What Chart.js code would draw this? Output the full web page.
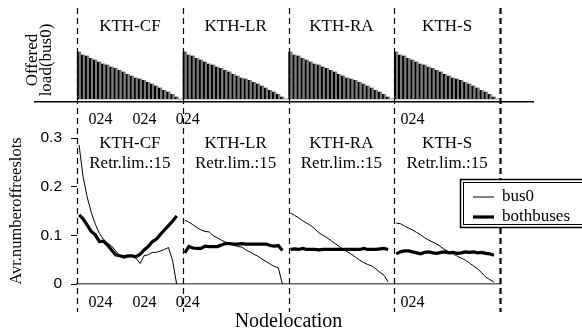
<!DOCTYPE html>
<html>
<head>
<meta charset="utf-8">
<script src="https://cdn.jsdelivr.net/npm/chart.js@4/dist/chart.umd.min.js"></script>
<style>
  body { margin: 0; background: #fff; }
  #wrap { position: relative; width: 582px; height: 334px; }
  #wrap canvas { position: absolute; left: 0; top: 0; }
</style>
</head>
<body>
<div id="wrap">
  <canvas id="loadChart" width="582" height="334"></canvas>
  <canvas id="slotChart" width="582" height="334"></canvas>
</div>
<script>
// traces, one block of nodes per trace
const groups = ['KTH-CF', 'KTH-LR', 'KTH-RA', 'KTH-S'];
const retryNote = 'Retr.lim.:15';

// offered load on bus0 per node (same for every trace)
const offeredLoad = [0.95, 0.89, 0.87, 0.82, 0.79, 0.75, 0.71, 0.69, 0.65, 0.62, 0.58, 0.55, 0.50,
                     0.47, 0.43, 0.41, 0.38, 0.34, 0.31, 0.27, 0.23, 0.18, 0.15, 0.10, 0.05];

// avg. number of free slots, bus0 only
const bus0CF = [0.286, 0.220, 0.179, 0.147, 0.123, 0.104, 0.092, 0.084, 0.078, 0.068, 0.058, 0.053, 0.055,
                0.056, 0.053, 0.042, 0.058, 0.060, 0.065, 0.065, 0.068, 0.071, 0.075, 0.048, 0];
const bus0LR = [0.131, 0.127, 0.122, 0.116, 0.111, 0.108, 0.107, 0.099, 0.095, 0.090, 0.086, 0.084, 0.080,
                0.077, 0.076, 0.070, 0.066, 0.061, 0.057, 0.051, 0.046, 0.041, 0.036, 0.033, 0];
const bus0RA = [0.146, 0.141, 0.136, 0.130, 0.125, 0.120, 0.113, 0.105, 0.100, 0.095, 0.089, 0.083, 0.077,
                0.071, 0.066, 0.061, 0.055, 0.049, 0.044, 0.040, 0.037, 0.031, 0.024, 0.018, 0.004];
const bus0S  = [0.125, 0.124, 0.119, 0.115, 0.111, 0.106, 0.101, 0.095, 0.090, 0.086, 0.082, 0.076, 0.070,
                0.066, 0.062, 0.057, 0.053, 0.049, 0.043, 0.037, 0.031, 0.023, 0.014, 0.009, 0.004];

// avg. number of free slots, both buses
const bothCF = [0.142, 0.134, 0.121, 0.108, 0.101, 0.087, 0.088, 0.080, 0.070, 0.060, 0.058, 0.056, 0.058,
                0.058, 0.056, 0.061, 0.070, 0.077, 0.087, 0.092, 0.102, 0.111, 0.120, 0.129, 0.140];
const bothLR = [0.064, 0.077, 0.074, 0.073, 0.073, 0.078, 0.077, 0.077, 0.077, 0.080, 0.083, 0.083, 0.082,
                0.082, 0.083, 0.082, 0.082, 0.082, 0.082, 0.082, 0.082, 0.079, 0.078, 0.079, 0.069];
const bothRA = [0.071, 0.072, 0.071, 0.073, 0.071, 0.071, 0.071, 0.070, 0.071, 0.071, 0.071, 0.071, 0.071,
                0.071, 0.071, 0.071, 0.071, 0.071, 0.073, 0.071, 0.071, 0.071, 0.072, 0.073, 0.071];
const bothS  = [0.062, 0.066, 0.068, 0.068, 0.066, 0.064, 0.062, 0.065, 0.066, 0.064, 0.063, 0.065, 0.066,
                0.064, 0.065, 0.063, 0.064, 0.066, 0.065, 0.066, 0.064, 0.065, 0.063, 0.062, 0.059];

const seriesLabels = ['bus0', 'bothbuses'];
const tickPositions = [5.8, 16.6, 27.2, 82.5];
const tickLabels = ['024', '024', '024', '024'];

const groupSpan = 26;
const nodeX = (g, i) => g * groupSpan + 0.5 + i;

const SERIF = "'Liberation Serif', 'Times New Roman', serif";
const SANS = "'Liberation Sans', Arial, sans-serif";
Chart.defaults.font.family = SERIF;
Chart.defaults.color = '#000';

const loadBars = [];
groups.forEach((name, g) => offeredLoad.forEach((v, i) => loadBars.push({ x: nodeX(g, i), y: v })));

function seriesPoints(perGroup) {
  const pts = [];
  perGroup.forEach((vals, g) => {
    vals.forEach((v, i) => pts.push({ x: nodeX(g, i), y: v }));
    pts.push({ x: nodeX(g, vals.length), y: null });  // break the line between traces
  });
  return pts;
}

function fixedTicks(scale) {
  scale.ticks = tickPositions.map(v => ({ value: v }));
}

function drawGroupNames(chart, rows) {
  const { ctx } = chart;
  const x = chart.scales.x;
  ctx.save();
  ctx.fillStyle = '#000';
  ctx.textAlign = 'center';
  ctx.textBaseline = 'middle';
  ctx.font = '17px ' + SERIF;
  groups.forEach((name, g) => {
    const cx = x.getPixelForValue(g * groupSpan + groupSpan / 2);
    rows.forEach(r => ctx.fillText(r.text(name), cx, r.y));
  });
  ctx.restore();
}

// top panel: offered load
const loadDecor = {
  id: 'loadDecor',
  beforeDatasetsDraw(chart) {
    const { ctx } = chart;
    const x = chart.scales.x, y = chart.scales.y;
    ctx.save();
    ctx.strokeStyle = '#999';
    ctx.lineWidth = 1;
    ctx.beginPath();
    ctx.moveTo(x.getPixelForValue(0), y.getPixelForValue(0));
    ctx.lineTo(x.getPixelForValue(groups.length * groupSpan), y.getPixelForValue(0));
    ctx.stroke();
    ctx.restore();
  },
  afterDraw(chart) {
    drawGroupNames(chart, [{ text: n => n, y: 27 }]);
  }
};

new Chart(document.getElementById('loadChart'), {
  type: 'bar',
  data: {
    datasets: [{
      data: loadBars,
      backgroundColor: '#7a7a7a',
      borderColor: '#000',
      borderWidth: { left: 2.6, top: 0, right: 0, bottom: 0 },
      barThickness: 4.07
    }]
  },
  options: {
    animation: false,
    responsive: false,
    layout: { padding: { left: 0, right: 49, top: 18, bottom: 0 } },
    plugins: { legend: { display: false }, tooltip: { enabled: false } },
    scales: {
      x: {
        type: 'linear',
        min: -10.33,
        max: 112.11,
        offset: false,
        afterBuildTicks: fixedTicks,
        afterFit: s => { s.height = 232; },
        grid: { display: false, drawTicks: false },
        border: { display: true, color: '#000', width: 1.6 },
        ticks: {
          autoSkip: false,
          maxRotation: 0,
          padding: 8,
          font: { size: 16 },
          callback: (v, i) => tickLabels[i]
        }
      },
      y: {
        min: -0.06,
        max: 1.62,
        afterFit: s => { s.width = 35; },
        grid: { display: false },
        border: { display: false },
        ticks: { display: false },
        title: {
          display: true,
          text: ['Offered', 'load(bus0)'],
          font: { size: 17, lineHeight: 0.8 },
          padding: { top: 26, bottom: 0 }
        }
      }
    }
  },
  plugins: [loadDecor]
});

// bottom panel: free slots
const slotDecor = {
  id: 'slotDecor',
  afterDatasetsDraw(chart) {
    const { ctx } = chart;
    const x = chart.scales.x;
    ctx.save();
    ctx.strokeStyle = '#000';
    ctx.setLineDash([6, 4]);
    for (let g = 0; g <= groups.length; g++) {
      const px = Math.round(x.getPixelForValue(g * groupSpan)) + 0.5;
      ctx.lineWidth = g === groups.length ? 2.2 : 1.2;
      ctx.beginPath();
      ctx.moveTo(px, 8);
      ctx.lineTo(px, 312);
      ctx.stroke();
    }
    ctx.restore();
    drawGroupNames(chart, [{ text: n => n, y: 143.5 }, { text: () => retryNote, y: 163.5 }]);
  },
  afterDraw(chart) {
    const { ctx } = chart;
    ctx.save();
    ctx.fillStyle = '#fff';
    ctx.fillRect(460, 179, 130, 49);
    ctx.strokeStyle = '#000';
    ctx.lineWidth = 1.5;
    ctx.strokeRect(460.5, 179.5, 130, 48);
    ctx.lineWidth = 1;
    ctx.strokeRect(463.5, 182.5, 125, 42);
    ctx.font = '17px ' + SERIF;
    ctx.textBaseline = 'middle';
    ctx.fillStyle = '#000';
    chart.data.datasets.forEach((ds, k) => {
      const y = 197 + k * 20;
      ctx.lineWidth = ds.borderWidth;
      ctx.beginPath();
      ctx.moveTo(473, y);
      ctx.lineTo(494, y);
      ctx.stroke();
      ctx.fillText(ds.label, 502, y);
    });
    ctx.restore();
  }
};

new Chart(document.getElementById('slotChart'), {
  type: 'line',
  data: {
    datasets: [
      {
        label: seriesLabels[0],
        data: seriesPoints([bus0CF, bus0LR, bus0RA, bus0S]),
        borderColor: '#000',
        borderWidth: 1,
        pointRadius: 0,
        tension: 0
      },
      {
        label: seriesLabels[1],
        data: seriesPoints([bothCF, bothLR, bothRA, bothS]),
        borderColor: '#000',
        borderWidth: 3.2,
        pointRadius: 0,
        tension: 0
      }
    ]
  },
  options: {
    animation: false,
    responsive: false,
    layout: { padding: { left: 0, right: 82, top: 138, bottom: 0 } },
    plugins: { legend: { display: false }, tooltip: { enabled: false } },
    scales: {
      x: {
        type: 'linear',
        min: 0,
        max: groups.length * groupSpan,
        afterBuildTicks: fixedTicks,
        afterFit: s => { s.height = 50; },
        grid: { display: false, drawTicks: false },
        border: { display: true, color: '#666', width: 1.6 },
        ticks: {
          autoSkip: false,
          maxRotation: 0,
          padding: 9,
          font: { size: 16 },
          callback: (v, i) => tickLabels[i]
        },
        title: {
          display: true,
          text: 'Nodelocation',
          font: { size: 20 },
          padding: 0
        }
      },
      y: {
        min: 0,
        max: 0.3,
        afterFit: s => { s.width = 77; },
        grid: { display: true, drawOnChartArea: false, drawTicks: true, tickLength: 6, color: '#000' },
        border: { display: false },
        ticks: { stepSize: 0.1, padding: 9, font: { family: SANS, size: 15.5 } },
        title: {
          display: true,
          text: 'Avr.numberoffreeslots',
          font: { size: 16.5 },
          padding: { top: 7, bottom: 0 }
        }
      }
    }
  },
  plugins: [slotDecor]
});
</script>
</body>
</html>
